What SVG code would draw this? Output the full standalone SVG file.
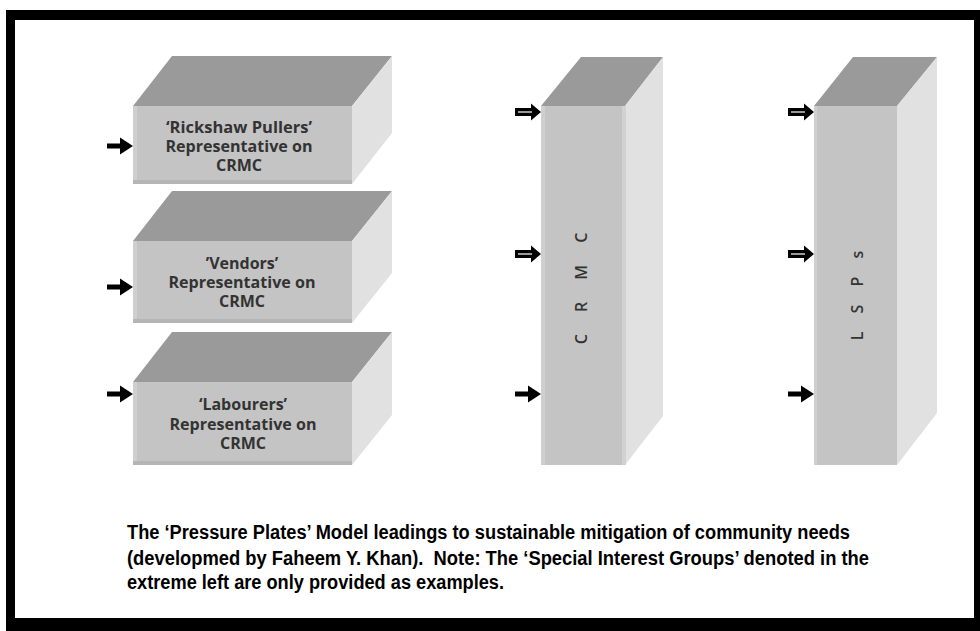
<svg xmlns="http://www.w3.org/2000/svg" width="980" height="631" viewBox="0 0 980 631">
  <style>
    .top { fill: #9a9a9a; }
    .front { fill: #c4c4c4; }
    .side { fill: #e1e1e1; }
    .edgeL { fill: #cfcfcf; }
    .edgeB { fill: #b5b5b5; }
    .lbl { font-family: "Open Sans", "DejaVu Sans", sans-serif; font-weight: 700; font-size: 16px; fill: #333; text-anchor: middle; }
    .vlbl { font-family: "Open Sans", "DejaVu Sans", sans-serif; font-weight: 600; font-size: 16px; fill: #333; text-anchor: middle; }
    .cap { font-family: "Liberation Sans", Arial, sans-serif; font-weight: 700; font-size: 19.5px; fill: #000; }
    .arrow { fill: #000; }
    .glint { stroke: #fff; stroke-width: 1.2; }
  </style>
  <defs>
    <!-- small solid arrow used for the interest-group boxes -->
    <path id="arrowSmall" d="M0,-2.5 H13 V-8.5 L26,0 L13,8.5 V2.5 H0 Z"/>
    <!-- wider arrow used against the pillars -->
    <path id="arrowWide" d="M0,-4 H16 V-8.5 L26,0 L16,8.5 V4 H0 Z"/>
  </defs>

  <rect x="0" y="0" width="980" height="631" fill="#fff"/>

  <!-- outer frame -->
  <path d="M6 10 H980 V631 H6 Z M15 20 V618 H974 V20 Z" fill="#000" fill-rule="evenodd"/>

  <!-- interest-group box 1 -->
  <g id="box-rickshaw">
    <polygon class="top" points="133,106 352,106 392,56 172,56"/>
    <polygon class="side" points="352,106 392,56 392,133 352,184"/>
    <rect class="front" x="133" y="106" width="219" height="78"/>
    <rect class="edgeL" x="133" y="106" width="4" height="78"/>
    <rect class="edgeB" x="133" y="180" width="219" height="4"/>
    <text class="lbl" x="239" y="133" textLength="146" lengthAdjust="spacingAndGlyphs">‘Rickshaw Pullers’</text>
    <text class="lbl" x="239" y="152" textLength="147" lengthAdjust="spacingAndGlyphs">Representative on</text>
    <text class="lbl" x="239" y="171">CRMC</text>
  </g>

  <!-- interest-group box 2 -->
  <g id="box-vendors">
    <polygon class="top" points="133,241 352,241 392,191 172,191"/>
    <polygon class="side" points="352,241 392,191 392,273 352,323"/>
    <rect class="front" x="133" y="241" width="219" height="82"/>
    <rect class="edgeL" x="133" y="241" width="4" height="82"/>
    <rect class="edgeB" x="133" y="319" width="219" height="4"/>
    <text class="lbl" x="242" y="269">’Vendors’</text>
    <text class="lbl" x="242" y="288" textLength="147" lengthAdjust="spacingAndGlyphs">Representative on</text>
    <text class="lbl" x="242" y="307">CRMC</text>
  </g>

  <!-- interest-group box 3 -->
  <g id="box-labourers">
    <polygon class="top" points="133,382 352,382 392,332 172,332"/>
    <polygon class="side" points="352,382 392,332 392,415 352,465"/>
    <rect class="front" x="133" y="382" width="219" height="83"/>
    <rect class="edgeL" x="133" y="382" width="4" height="83"/>
    <rect class="edgeB" x="133" y="461" width="219" height="4"/>
    <text class="lbl" x="243" y="410">‘Labourers’</text>
    <text class="lbl" x="243" y="430" textLength="147" lengthAdjust="spacingAndGlyphs">Representative on</text>
    <text class="lbl" x="243" y="449">CRMC</text>
  </g>

  <!-- CRMC pillar -->
  <g id="pillar-crmc">
    <polygon class="top" points="541,106 625,106 663,57 581,57"/>
    <polygon class="side" points="625,106 663,57 663,416 625,465"/>
    <rect class="front" x="541" y="106" width="84" height="359"/>
    <rect class="edgeL" x="541" y="106" width="4" height="359"/>
    <rect fill="#d2d2d2" x="622" y="106" width="4" height="359"/>
    <text class="vlbl" letter-spacing="9" transform="translate(587,284) rotate(-90)">C R M C</text>
  </g>

  <!-- LSPs pillar -->
  <g id="pillar-lsps">
    <polygon class="top" points="814,106 897,106 937,57 853,57"/>
    <polygon class="side" points="897,106 937,57 937,413 897,465"/>
    <rect class="front" x="814" y="106" width="83" height="359"/>
    <rect class="edgeL" x="814" y="106" width="3" height="359"/>
    <text class="vlbl" letter-spacing="7" transform="translate(863,292) rotate(-90)">L S P s</text>
  </g>

  <!-- pressure arrows -->
  <g id="connectors">
    <use href="#arrowSmall" class="arrow" x="107" y="146"/>
    <use href="#arrowSmall" class="arrow" x="107" y="287"/>
    <use href="#arrowSmall" class="arrow" x="107" y="394"/>

    <use href="#arrowWide" class="arrow" x="515" y="112"/>
    <line class="glint" x1="518" y1="112" x2="532" y2="112"/>
    <use href="#arrowWide" class="arrow" x="515" y="254"/>
    <line class="glint" x1="518" y1="254" x2="532" y2="254"/>
    <use href="#arrowSmall" class="arrow" x="515" y="394"/>

    <use href="#arrowWide" class="arrow" x="788" y="112"/>
    <line class="glint" x1="791" y1="112" x2="805" y2="112"/>
    <use href="#arrowWide" class="arrow" x="788" y="254"/>
    <line class="glint" x1="791" y1="254" x2="805" y2="254"/>
    <use href="#arrowSmall" class="arrow" x="788" y="394"/>
  </g>

  <!-- caption -->
  <g id="caption">
    <text class="cap" x="127" y="539" textLength="723" lengthAdjust="spacingAndGlyphs">The ‘Pressure Plates’ Model leadings to sustainable mitigation of community needs</text>
    <text class="cap" x="127" y="565" textLength="742" lengthAdjust="spacingAndGlyphs" xml:space="preserve">(developmed by Faheem Y. Khan).  Note: The ‘Special Interest Groups’ denoted in the</text>
    <text class="cap" x="127" y="589" textLength="377" lengthAdjust="spacingAndGlyphs">extreme left are only provided as examples.</text>
  </g>
</svg>
